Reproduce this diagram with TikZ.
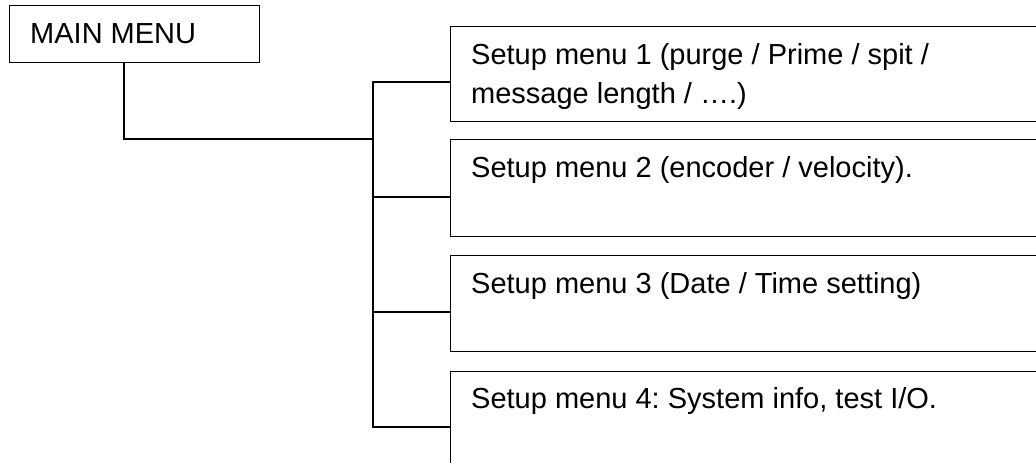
\documentclass[tikz,border=0pt]{standalone}
\usepackage{fontspec}
\setmainfont{Liberation Sans}
\frenchspacing
\begin{document}
\begin{tikzpicture}[x=1pt,y=-1pt,
  box/.style={draw=black, line width=1.4pt, rectangle, inner sep=0pt, anchor=north west},
  txt/.style={anchor=base west, inner sep=0pt, font=\fontsize{29}{38}\selectfont},
  conn/.style={draw=black, line width=1.4pt}]
\useasboundingbox (0,0) rectangle (1036,463);
\clip (0,0) rectangle (1036,463);
% main menu
\node[box, minimum width=250.5pt, minimum height=57pt] (main) at (8.5,5) {};
\node[txt] (maint) at (30,43) {MAIN MENU};
% setup boxes
\node[box, minimum width=620pt, minimum height=95pt] (b1) at (450,26) {};
\node[box, minimum width=620pt, minimum height=97pt] (b2) at (450,139) {};
\node[box, minimum width=620pt, minimum height=96pt] (b3) at (450,255) {};
\node[box, minimum width=620pt, minimum height=110pt] (b4) at (450,371) {};
\node[txt] (t1a) at (471,64) {Setup menu 1 (purge / Prime / spit /};
\node[txt] (t1b) at (471,103) {message length / ….)};
\node[txt] (t2) at (471,177) {Setup menu 2 (encoder / velocity).};
\node[txt] (t3) at (471,293) {Setup menu 3 (Date / Time setting)};
\node[txt] (t4) at (471,408) {Setup menu 4: System info, test I/O.};
% connection points
\coordinate (m) at (124,62);
\coordinate (j) at (373,139);
\coordinate (p1) at (450,82);
\coordinate (p2) at (450,197);
\coordinate (p3) at (450,312);
\coordinate (p4) at (450,427);
\draw[conn] (m) |- (j);
\draw[conn] (p1) -- (p1 -| j) -- (p4 -| j) -- (p4);
\draw[conn] (p2) -- (p2 -| j);
\draw[conn] (p3) -- (p3 -| j);
\end{tikzpicture}
\end{document}
